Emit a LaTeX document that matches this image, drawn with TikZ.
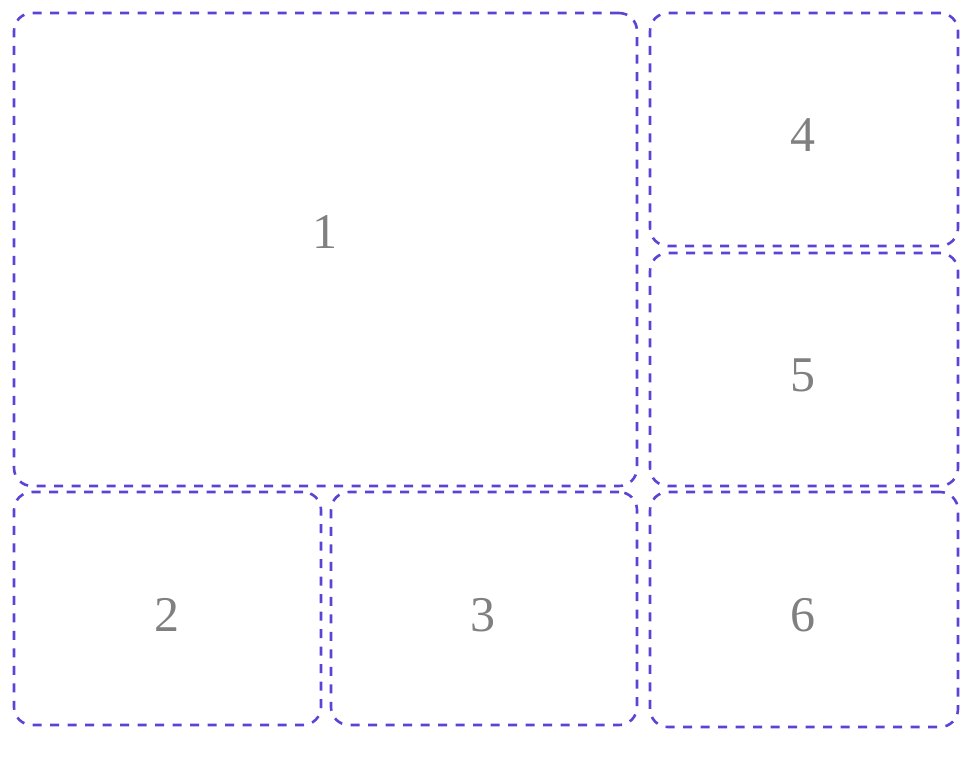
\documentclass[tikz,border=0pt]{standalone}
\usepackage{fontspec}
\setmainfont{Liberation Serif}
\usepackage{xcolor}
\definecolor{panelblue}{RGB}{91,67,214}
\definecolor{labelgray}{RGB}{128,128,128}
\tikzset{
    panel/.style = {draw=panelblue, line width=2.6pt, dash pattern=on 9pt off 8.5pt, rounded corners=18pt, rectangle, inner sep=0pt},
    panel-label/.style = {text=labelgray, font=\fontsize{50}{50}\selectfont, inner sep=0pt},
}

\begin{document}
\begin{tikzpicture}[x=1pt, y=-1pt]
\useasboundingbox (0,0) rectangle (973,768);
% panels
\node [panel, minimum width=623pt, minimum height=473pt] (panelA) at (325.5,249.5) {};
\node [panel, minimum width=307pt, minimum height=233pt] (panelB) at (167.5,608.5) {};
\node [panel, minimum width=306pt, minimum height=233pt] (panelC) at (484,608.5) {};
\node [panel, minimum width=308pt, minimum height=233pt] (panelD) at (804,129.5) {};
\node [panel, minimum width=308pt, minimum height=233pt] (panelE) at (804,369.5) {};
\node [panel, minimum width=308pt, minimum height=235pt] (panelF) at (804,609.5) {};
% numbers
\node [panel-label] at (325,232) {1};
\node [panel-label] at (167,615) {2};
\node [panel-label] at (483,615) {3};
\node [panel-label] at (803,135) {4};
\node [panel-label] at (803,375) {5};
\node [panel-label] at (803,615) {6};
\end{tikzpicture}
\end{document}
